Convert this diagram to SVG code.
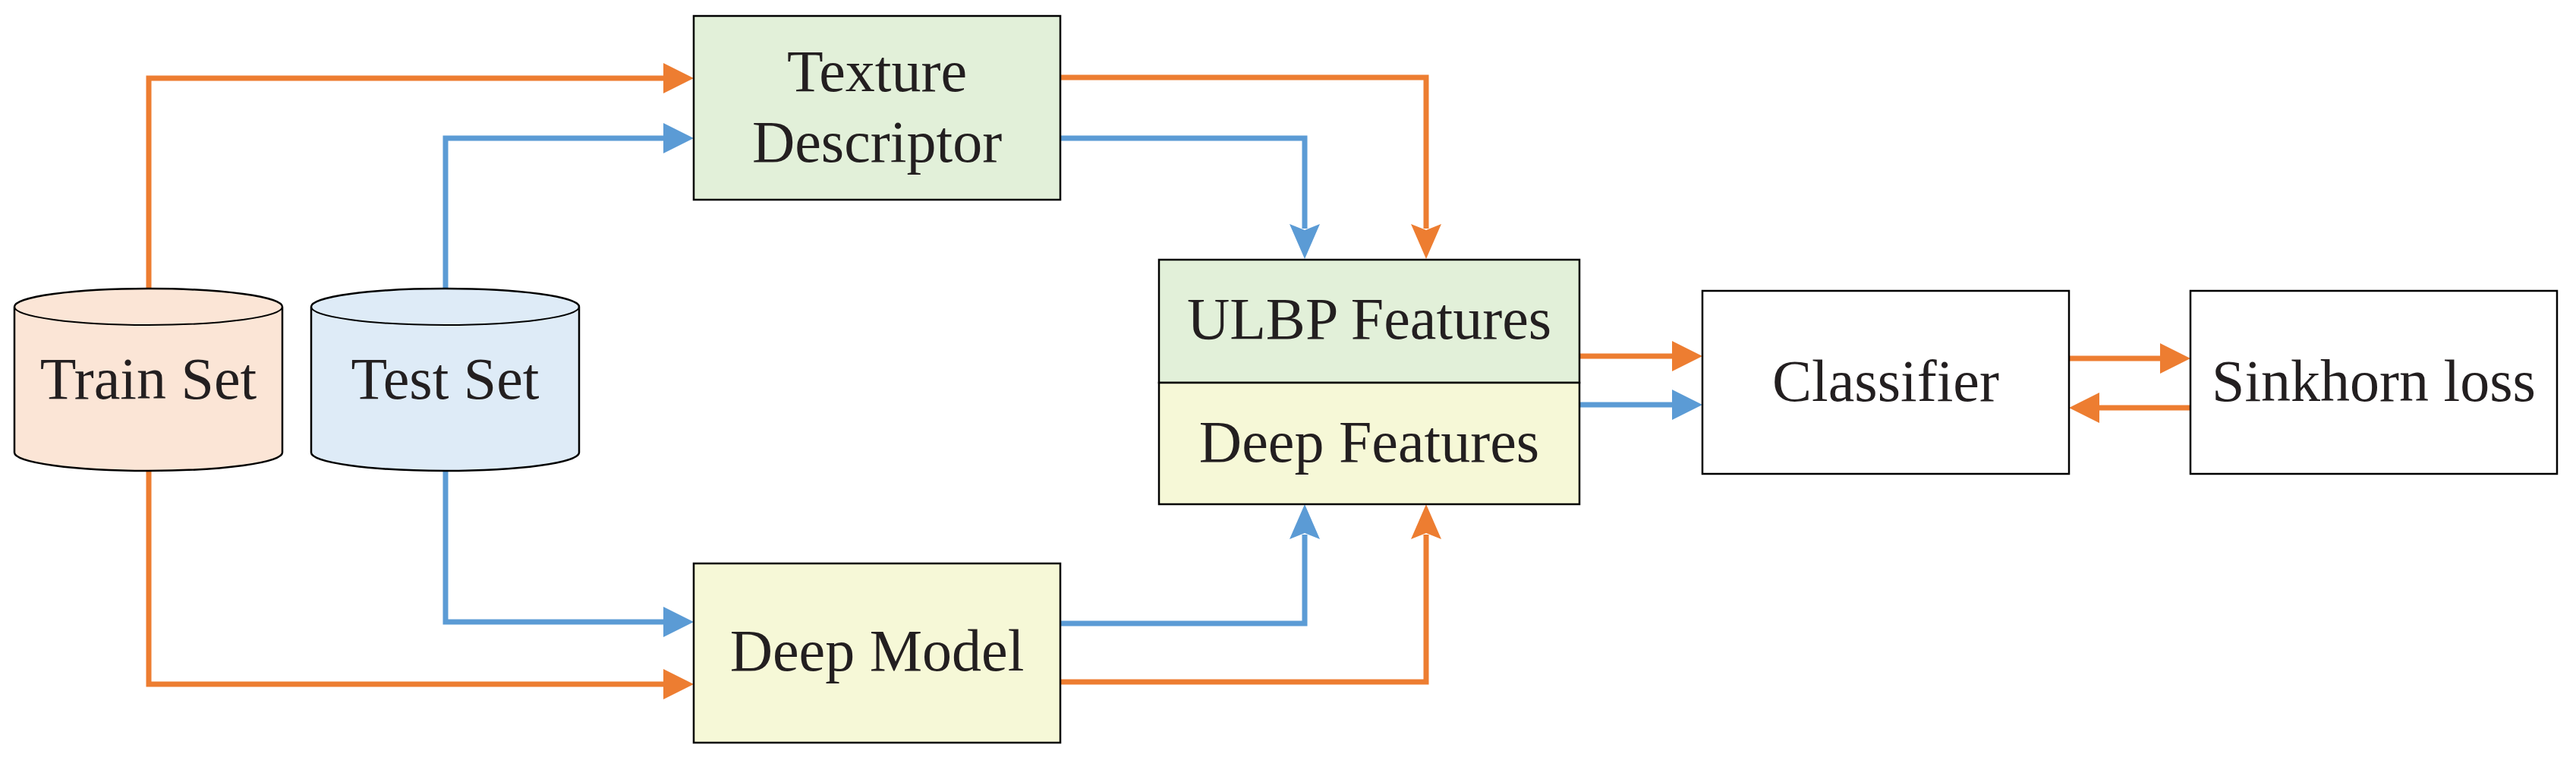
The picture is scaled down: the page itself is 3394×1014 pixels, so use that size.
<svg xmlns="http://www.w3.org/2000/svg" width="3394" height="1014" viewBox="0 0 3394 1014">
<style>
.box{stroke:#000;stroke-width:2.5}
.lbl{font-family:"Liberation Serif","Times New Roman",serif;font-size:78px;fill:#231F20;text-anchor:middle}
.o{fill:none;stroke:#ED7D31;stroke-width:7}
.b{fill:none;stroke:#5B9BD5;stroke-width:7}
</style>
<defs>
<marker id="ao" markerUnits="userSpaceOnUse" markerWidth="42" markerHeight="42" viewBox="0 -21 42 42" refX="0" refY="0" orient="auto" overflow="visible"><path d="M0,-20 L40,0 L0,20 Z" fill="#ED7D31"/></marker>
<marker id="ab" markerUnits="userSpaceOnUse" markerWidth="42" markerHeight="42" viewBox="0 -21 42 42" refX="0" refY="0" orient="auto" overflow="visible"><path d="M0,-20 L40,0 L0,20 Z" fill="#5B9BD5"/></marker>
<marker id="ano" markerUnits="userSpaceOnUse" markerWidth="42" markerHeight="42" viewBox="0 -21 42 42" refX="0" refY="0" orient="auto" overflow="visible"><path d="M-6,-20 L40,0 L-6,20 L2,0 Z" fill="#ED7D31"/></marker>
<marker id="anb" markerUnits="userSpaceOnUse" markerWidth="42" markerHeight="42" viewBox="0 -21 42 42" refX="0" refY="0" orient="auto" overflow="visible"><path d="M-6,-20 L40,0 L-6,20 L2,0 Z" fill="#5B9BD5"/></marker>
</defs>
<rect width="3394" height="1014" fill="#fff"/>
<g id="connectors">
<path class="o" d="M196,380 V103 H874" marker-end="url(#ao)"/>
<path class="b" d="M587,380 V182 H874" marker-end="url(#ab)"/>
<path class="o" d="M196,620 V901 H874" marker-end="url(#ao)"/>
<path class="b" d="M587,620 V819 H874" marker-end="url(#ab)"/>
<path class="o" d="M1397,102 H1879 V301" marker-end="url(#ano)"/>
<path class="b" d="M1397,182 H1719 V301" marker-end="url(#anb)"/>
<path class="b" d="M1397,821 H1719 V704" marker-end="url(#anb)"/>
<path class="o" d="M1397,898 H1879 V704" marker-end="url(#ano)"/>
<path class="o" d="M2081,469 H2203" marker-end="url(#ao)"/>
<path class="b" d="M2081,533 H2203" marker-end="url(#ab)"/>
<path class="o" d="M2726,472 H2846" marker-end="url(#ao)"/>
<path class="o" d="M2886,537 H2766" marker-end="url(#ao)"/>
</g>
<g id="train-set">
<path class="box" fill="#FBE5D6" stroke-width="2" d="M19,404 A176.5,24 0 0 1 372,404 V596 A176.5,24 0 0 1 19,596 Z"/>
<path fill="none" stroke="#000" stroke-width="2" d="M19,404 A176.5,24 0 0 0 372,404"/>
<text class="lbl" x="195.5" y="525">Train Set</text>
</g>
<g id="test-set">
<path class="box" fill="#DEEBF7" stroke-width="2" d="M410,404 A176.5,24 0 0 1 763,404 V596 A176.5,24 0 0 1 410,596 Z"/>
<path fill="none" stroke="#000" stroke-width="2" d="M410,404 A176.5,24 0 0 0 763,404"/>
<text class="lbl" x="586.5" y="525">Test Set</text>
</g>
<g id="texture-descriptor">
<rect class="box" x="914" y="21" width="483" height="242" fill="#E2F0D9"/>
<text class="lbl" x="1155.5" y="120">Texture</text>
<text class="lbl" x="1155.5" y="213">Descriptor</text>
</g>
<g id="deep-model">
<rect class="box" x="914" y="742" width="483" height="236" fill="#F6F8D7"/>
<text class="lbl" x="1155.5" y="883">Deep Model</text>
</g>
<g id="ulbp-features">
<rect class="box" x="1527" y="342" width="554" height="162" fill="#E2F0D9"/>
<text class="lbl" x="1804" y="446">ULBP Features</text>
</g>
<g id="deep-features">
<rect class="box" x="1527" y="504" width="554" height="160" fill="#F6F8D7"/>
<text class="lbl" x="1804" y="608">Deep Features</text>
</g>
<g id="classifier">
<rect class="box" x="2243" y="383" width="483" height="241" fill="#fff"/>
<text class="lbl" x="2484.5" y="528">Classifier</text>
</g>
<g id="sinkhorn-loss">
<rect class="box" x="2886" y="383" width="483" height="241" fill="#fff"/>
<text class="lbl" x="3127.5" y="528">Sinkhorn loss</text>
</g>
</svg>
